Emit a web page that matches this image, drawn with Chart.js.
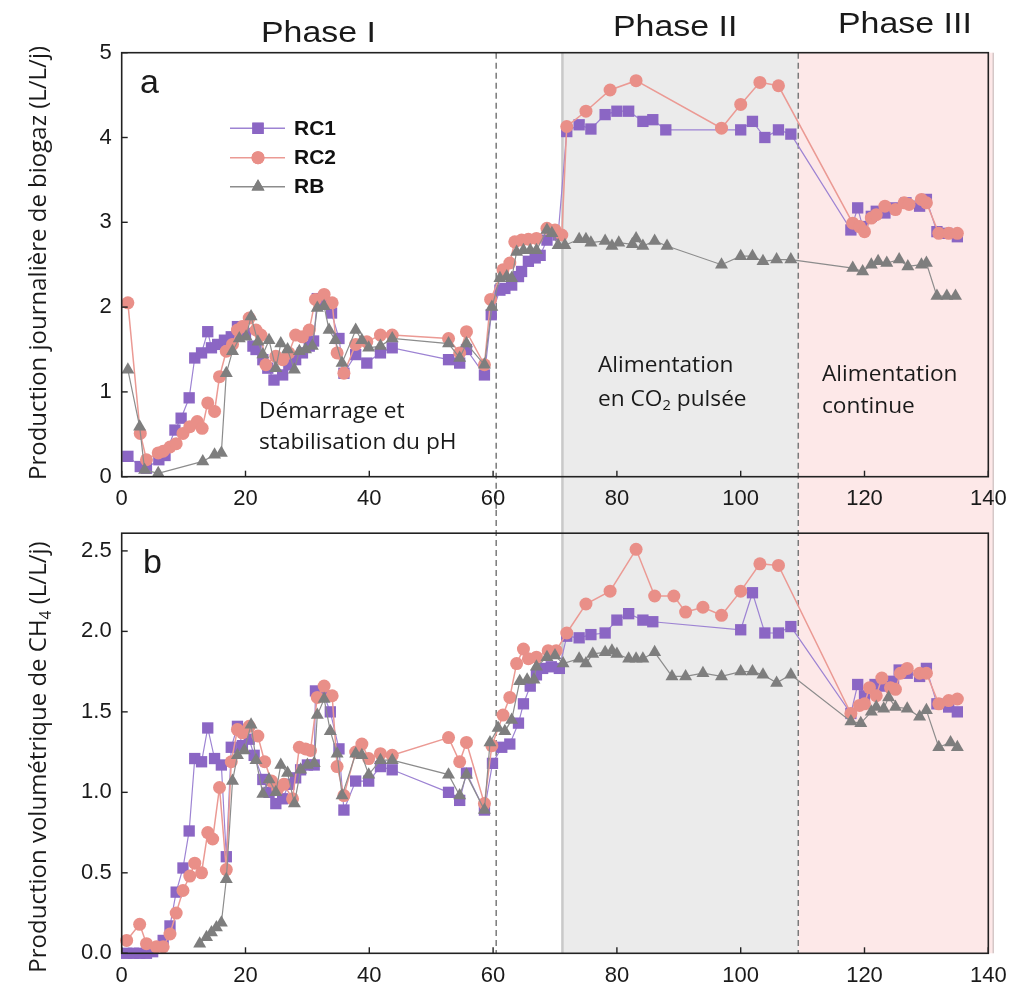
<!DOCTYPE html>
<html><head><meta charset="utf-8">
<script src="https://cdn.jsdelivr.net/npm/chart.js@4.4.1/dist/chart.umd.min.js"></script>
<style>
body{margin:0;background:#fff;width:1033px;height:985px;position:relative;overflow:hidden}
canvas{position:absolute;left:0}
#c1{top:0}
#c2{top:510px}
.t{position:absolute;white-space:nowrap;color:#1a1a1a;line-height:1}
.ph{font-family:"Liberation Sans",Arial,sans-serif;font-size:30px;transform:scaleX(1.13);transform-origin:0 0}
.lt{font-family:"Liberation Sans",Arial,sans-serif;font-size:34px}
.an{font-family:"Open Sans",sans-serif;font-size:21px;transform:scaleX(1.08);transform-origin:0 0}
.yt{font-family:"Open Sans",sans-serif;font-size:24px;width:600px;height:26px;line-height:26px;text-align:center;transform:rotate(-90deg);transform-origin:50% 50%}
sub{font-size:65%;vertical-align:-0.3em;line-height:0}
</style></head><body>
<canvas id="c1" width="1033" height="510" style="width:1033px;height:510px"></canvas>
<canvas id="c2" width="1033" height="475" style="width:1033px;height:475px"></canvas>

<div class="t ph" style="left:261px;top:17px">Phase I</div>
<div class="t ph" style="left:613px;top:11px">Phase II</div>
<div class="t ph" style="left:838px;top:8px">Phase III</div>
<div class="t lt" style="left:140px;top:64px">a</div>
<div class="t lt" style="left:143px;top:544px">b</div>
<div class="t an" style="left:259px;top:400px">Démarrage et</div>
<div class="t an" style="left:259px;top:431px">stabilisation du pH</div>
<div class="t an" style="left:598px;top:354px">Alimentation</div>
<div class="t an" style="left:598px;top:388px">en CO<sub>2</sub> pulsée</div>
<div class="t an" style="left:822px;top:363px">Alimentation</div>
<div class="t an" style="left:822px;top:395px">continue</div>
<div class="t yt" style="left:-263px;top:250px">Production journalière de biogaz (L/L/j)</div>
<div class="t yt" style="left:-263px;top:744px">Production volumétrique de CH<sub>4</sub> (L/L/j)</div>

<script>
// ---------- DATA ----------
const xTicks = [0, 20, 40, 60, 80, 100, 120, 140];
const yTicksA = [0, 1, 2, 3, 4, 5];
const yTicksB = [0, 0.5, 1.0, 1.5, 2.0, 2.5];
const seriesNames = ["RC1", "RC2", "RB"];

// Panel a : daily biogas production (L/L/j)
const daysRC1a = [1,3,4,6,7,8.6,9.6,10.9,11.8,12.9,13.9,14.5,15.5,16.6,17.7,18.7,20,21.2,21.7,22.8,23.6,24.6,26,27,28.1,29.2,30.3,31,31.6,32.7,33.9,35.1,35.9,37.8,39.6,41.8,43.7,52.8,54.6,55.7,58.6,59.7,61.1,61.9,63,64.1,64.6,65.7,66.8,67.6,68.7,69.7,70.5,71.9,73.9,75.8,78.1,80,81.9,84.2,85.8,87.9,100,101.9,103.9,106.1,108.1,117.8,118.9,119.7,121.1,121.9,123.3,124.7,126.7,128.9,130,131.7,133.3,135];
const rc1a = [0.24,0.12,0.1,0.2,0.25,0.55,0.69,0.93,1.40,1.46,1.71,1.52,1.56,1.61,1.65,1.77,1.69,1.54,1.5,1.38,1.28,1.14,1.2,1.32,1.38,1.46,1.54,1.6,2.1,2.05,1.93,1.63,1.22,1.44,1.34,1.46,1.52,1.38,1.34,1.5,1.2,1.91,2.2,2.22,2.26,2.36,2.42,2.54,2.58,2.61,2.79,2.89,2.85,4.07,4.15,4.1,4.27,4.31,4.31,4.19,4.21,4.09,4.09,4.19,4.0,4.09,4.04,2.91,3.17,2.95,3.07,3.13,3.11,3.17,3.23,3.19,3.27,2.89,2.87,2.83];

const daysRC2a = [1,3,4,5.9,6.7,7.8,8.8,9.9,11,12.2,13,13.9,15,15.8,16.9,17.9,18.7,19.5,20.6,21.7,22.5,23.3,24.9,26,27,28.1,29.2,30.3,31.3,32.7,34,34.8,35.9,37.8,39.6,41.8,43.7,52.8,54.6,55.7,58.6,59.6,61.6,62.7,63.5,64.6,65.7,67,68.7,70,71.1,71.9,75,78.9,83.1,96.9,100,103.1,106.1,118.1,119.2,120,121.1,121.9,123.3,125,126.4,127.2,129.2,130,132,133.6,135];
const rc2a = [2.05,0.51,0.2,0.28,0.3,0.35,0.39,0.51,0.59,0.65,0.57,0.87,0.77,1.18,1.48,1.56,1.73,1.77,1.87,1.73,1.67,1.32,1.42,1.38,1.46,1.67,1.65,1.73,2.09,2.15,2.05,1.46,1.22,1.56,1.59,1.67,1.67,1.63,1.46,1.71,1.32,2.09,2.44,2.52,2.77,2.79,2.8,2.81,2.93,2.91,2.85,4.13,4.31,4.56,4.67,4.11,4.39,4.65,4.61,2.99,2.95,2.89,3.05,3.09,3.19,3.15,3.23,3.21,3.27,3.23,2.87,2.87,2.87];

const daysRBa = [1,2.9,3.7,5.9,13.1,15,16.1,16.9,17.9,19,20.1,20.9,22,22.8,23.8,24.9,25.7,26.8,27.9,28.7,29.7,30.8,31.6,32.7,33.5,34.5,35.6,37.8,38.8,39.9,41.8,43.7,52.8,54.6,55.7,58.6,59.8,61.1,62.2,63,63.8,64.9,66,67,68.7,69.5,70.5,71.6,73.9,75,75.8,78.1,79.2,80.3,82.5,83.1,84.2,86.1,88.1,96.9,100,101.9,103.6,105.8,108.1,118.1,119.7,121.1,122.2,123.6,125.6,127,129.2,130,131.7,133.3,134.7];
const rba = [1.26,0.59,0.08,0.04,0.18,0.26,0.28,1.22,1.48,1.63,1.65,1.89,1.59,1.44,1.61,1.28,1.57,1.5,1.26,1.48,1.5,1.54,1.99,2.01,1.73,1.61,1.34,1.73,1.61,1.52,1.54,1.63,1.57,1.4,1.57,1.32,2.0,2.34,2.36,2.34,2.65,2.67,2.67,2.67,2.91,2.87,2.73,2.73,2.8,2.8,2.76,2.78,2.72,2.76,2.74,2.81,2.72,2.78,2.72,2.5,2.6,2.6,2.54,2.56,2.56,2.46,2.42,2.5,2.54,2.52,2.56,2.48,2.5,2.52,2.13,2.13,2.13];

// Panel b : volumetric CH4 production (L/L/j)
const daysRC1b = [0.8,1.9,2.9,4,5,6.7,7.8,8.8,9.9,10.9,11.8,12.9,13.9,15,16.1,16.9,17.7,18.7,19.5,20.6,21.4,22.8,23.8,24.9,26,27,28.1,28.9,30,31.1,31.3,32.7,33.7,35.1,35.9,37.8,39.9,41.8,43.7,52.8,54.6,55.7,58.6,59.9,61.4,62.7,64.1,64.9,66,67,68,69.4,70.7,71.9,73.9,75.8,78.1,80,81.9,84.2,85.8,100,101.9,103.9,106.1,108.1,117.8,118.9,120,121.7,123.3,124.7,125.6,126.9,128.9,130,131.7,133.6,135];
const rc1b = [0,0,0,0,0.01,0.08,0.17,0.38,0.53,0.76,1.21,1.19,1.4,1.21,1.17,0.6,1.28,1.41,1.29,1.33,1.23,1.08,1.0,0.93,0.96,1.05,1.09,1.14,1.17,1.17,1.63,1.6,1.5,1.27,0.89,1.07,1.07,1.16,1.14,1.0,0.95,1.12,0.89,1.18,1.28,1.3,1.43,1.55,1.66,1.73,1.77,1.78,1.77,1.97,1.96,1.98,1.99,2.07,2.11,2.07,2.06,2.01,2.24,1.99,1.99,2.03,1.49,1.67,1.6,1.67,1.66,1.69,1.76,1.74,1.72,1.77,1.55,1.53,1.5];

const daysRC2b = [0.8,2.9,4,5.6,6.7,7.8,8.8,9.9,11,11.8,12.9,13.9,14.7,15.8,16.9,17.7,18.7,19.5,20.6,22,23.1,24.2,25.2,26.2,27.6,28.7,29.7,30.5,31.6,32.7,34,34.8,35.9,37.8,38.8,39.9,41.8,43.7,52.8,54.6,55.7,58.6,59.8,61.6,62.7,63.8,64.9,65.7,67,68.9,70.2,71.9,75,78.9,83.1,86.1,89.2,91.1,93.9,96.9,100,103.1,106.1,117.8,119.2,120,120.8,121.9,122.8,124.2,125,125.8,126.9,128.9,130,132,133.6,135];
const rc2b = [0.08,0.18,0.06,0.04,0.04,0.12,0.25,0.39,0.48,0.56,0.5,0.75,0.71,1.03,0.52,1.19,1.39,1.37,1.41,1.35,1.19,1.07,1.02,1.05,0.96,1.28,1.27,1.26,1.59,1.66,1.6,1.16,0.98,1.25,1.3,1.21,1.24,1.23,1.34,1.19,1.31,0.93,1.29,1.48,1.59,1.8,1.89,1.83,1.84,1.88,1.88,1.99,2.17,2.25,2.51,2.22,2.22,2.12,2.15,2.1,2.25,2.42,2.41,1.49,1.54,1.55,1.65,1.6,1.71,1.65,1.64,1.74,1.77,1.74,1.74,1.55,1.57,1.58];

const daysRBb = [12.6,13.7,14.5,15.3,16.1,16.9,17.9,18.7,19.8,20.9,21.7,22.8,23.8,24.9,25.7,26.8,27.9,28.9,30,31.1,31.6,32.7,33.7,34.8,35.6,37.8,38.8,39.9,41.8,43.7,52.8,54.6,55.7,58.6,59.5,60.8,61.9,63,64.3,65.5,66.6,67,68.7,70,71.3,73.9,75,76.1,78.1,79.2,80,81.9,83.1,84.2,86.1,88.9,91.1,93.9,96.9,100,101.9,103.6,105.8,108.1,117.8,119.4,121.1,121.9,123.1,123.9,125,126.9,128.9,130,132,133.9,135];
const rbb = [0.06,0.1,0.13,0.16,0.19,0.46,1.07,1.23,1.26,1.42,1.2,0.99,1.08,1.0,1.17,1.12,0.93,1.14,1.17,1.18,1.48,1.58,1.38,1.24,0.98,1.24,1.23,1.11,1.2,1.2,1.11,0.98,1.11,0.89,1.31,1.4,1.38,1.45,1.69,1.7,1.7,1.78,1.84,1.85,1.8,1.83,1.8,1.86,1.87,1.88,1.86,1.83,1.83,1.83,1.87,1.72,1.72,1.74,1.72,1.75,1.75,1.73,1.68,1.73,1.44,1.43,1.5,1.53,1.52,1.59,1.53,1.52,1.47,1.51,1.28,1.31,1.28];

// Phase boundaries (days)
const phaseDash1 = 60.5;
const phase2Start = 71.2;
const phase3Start = 109.3;
const shadeEnd = 140.8;

// ---------- STYLE ----------
const styles = [
  {line:'#9d83d3', point:'#8b66c4', style:'rect', r:8, lw:1.2, order:3},
  {line:'#eb9a94', point:'#e98f88', style:'circle', r:6.5, lw:1.5, order:2},
  {line:'#8c8c8c', point:'#7e7e7e', style:'triangle', r:7.5, lw:1.2, order:1}
];
Chart.defaults.font.family = '"Liberation Sans", Arial, sans-serif';
Chart.defaults.color = '#1a1a1a';

function pts(d, v){ return d.map((x,i)=>({x:x, y:v[i]})); }
function mkSets(list){
  return list.map((data,i)=>({
    label: seriesNames[i], data: data,
    borderColor: styles[i].line, borderWidth: styles[i].lw,
    backgroundColor: styles[i].point, pointBackgroundColor: styles[i].point,
    pointBorderWidth: 0, pointBorderColor: styles[i].point,
    pointStyle: styles[i].style, pointRadius: styles[i].r, pointHoverRadius: styles[i].r,
    tension: 0, order: styles[i].order, clip: false
  }));
}

const bandsPlugin = {
  id:'bands',
  beforeDraw(chart, args, opts){
    const ctx = chart.ctx, x = chart.scales.x, ca = chart.chartArea;
    const y0 = opts.top === 'area' ? ca.top : 0;
    const y1 = opts.bottom === 'area' ? ca.bottom : chart.height;
    const xa = x.getPixelForValue(phase2Start), xb = x.getPixelForValue(phase3Start), xc = x.getPixelForValue(shadeEnd);
    ctx.save();
    ctx.fillStyle = '#ebebeb'; ctx.fillRect(xa, y0, xb-xa, y1-y0);
    ctx.fillStyle = '#fde8e8'; ctx.fillRect(xb, y0, xc-xb, y1-y0);
    ctx.strokeStyle = '#c9c9c9'; ctx.lineWidth = 2.5;
    ctx.beginPath(); ctx.moveTo(xa, y0); ctx.lineTo(xa, y1); ctx.stroke();
    ctx.strokeStyle = '#d5c8c8'; ctx.lineWidth = 1.5;
    ctx.beginPath(); ctx.moveTo(xc, y0); ctx.lineTo(xc, y1); ctx.stroke();
    ctx.strokeStyle = '#7a7a7a'; ctx.lineWidth = 1.5; ctx.setLineDash([6,4]);
    [phaseDash1, phase3Start].forEach(v=>{
      const px = x.getPixelForValue(v);
      ctx.beginPath(); ctx.moveTo(px, y0); ctx.lineTo(px, y1); ctx.stroke();
    });
    ctx.restore();
  },
  afterDraw(chart){
    const ctx = chart.ctx, ca = chart.chartArea;
    ctx.save();
    ctx.strokeStyle = '#222'; ctx.lineWidth = 1.6;
    ctx.strokeRect(ca.left, ca.top, ca.right-ca.left, ca.bottom-ca.top);
    ctx.lineWidth = 1.4;
    chart.scales.x.ticks.forEach(t=>{
      const px = chart.scales.x.getPixelForValue(t.value);
      ctx.beginPath(); ctx.moveTo(px, ca.bottom); ctx.lineTo(px, ca.bottom-6); ctx.stroke();
    });
    chart.scales.y.ticks.forEach(t=>{
      const py = chart.scales.y.getPixelForValue(t.value);
      ctx.beginPath(); ctx.moveTo(ca.left, py); ctx.lineTo(ca.left+6, py); ctx.stroke();
    });
    ctx.restore();
  }
};

const legendPlugin = {
  id:'customLegend',
  afterDraw(chart){
    const ctx = chart.ctx;
    const rows = [128.3, 157.7, 186.7];
    ctx.save();
    rows.forEach((y,i)=>{
      ctx.strokeStyle = styles[i].line; ctx.lineWidth = 1.5;
      ctx.beginPath(); ctx.moveTo(230, y); ctx.lineTo(285, y); ctx.stroke();
      ctx.fillStyle = styles[i].point;
      Chart.helpers.drawPoint(ctx, {pointStyle: styles[i].style, radius: styles[i].r, rotation: 0, borderWidth: 0}, 258, y);
      ctx.fill();
      ctx.fillStyle = '#111'; ctx.font = 'bold 21px "Liberation Sans", Arial, sans-serif';
      ctx.textBaseline = 'middle'; ctx.textAlign = 'left';
      ctx.fillText(seriesNames[i], 294, y+1);
    });
    ctx.restore();
  }
};

function makeChart(id, sets, yTicks, yMax, padTop, areaBottom, canvasH, decimals, bandTop, bandBottom, extraPlugins){
  return new Chart(document.getElementById(id), {
    type:'line',
    data:{datasets: mkSets(sets)},
    options:{
      responsive:false, animation:false, events:[],
      layout:{padding:{left:0, right:1033-988.3, top:padTop, bottom:0}},
      plugins:{legend:{display:false}, tooltip:{enabled:false}, title:{display:false},
        bands:{top:bandTop, bottom:bandBottom}},
      scales:{
        x:{type:'linear', min:0, max:140,
           afterBuildTicks(s){ s.ticks = xTicks.map(v=>({value:v})); },
           afterFit(s){ s.height = canvasH - areaBottom; },
           grid:{display:false, drawTicks:false}, border:{display:false},
           ticks:{padding:9, font:{size:22}, color:'#1a1a1a', maxRotation:0}},
        y:{type:'linear', min:0, max:yMax,
           afterBuildTicks(s){ s.ticks = yTicks.map(v=>({value:v})); },
           afterFit(s){ s.width = 121.7; },
           grid:{display:false, drawTicks:false}, border:{display:false},
           ticks:{padding:10, font:{size:22}, color:'#1a1a1a',
             callback:(v)=> decimals ? Number(v).toFixed(1) : String(v)}}
      }
    },
    plugins:[bandsPlugin].concat(extraPlugins)
  });
}

makeChart('c1', [pts(daysRC1a, rc1a), pts(daysRC2a, rc2a), pts(daysRBa, rba)],
  yTicksA, 5, 52.7, 476.7, 510, false, 'area', 'canvas', [legendPlugin]);
makeChart('c2', [pts(daysRC1b, rc1b), pts(daysRC2b, rc2b), pts(daysRBb, rbb)],
  yTicksB, 2.61, 20, 443.3, 475, true, 'canvas', 'area', []);
</script>
</body></html>
